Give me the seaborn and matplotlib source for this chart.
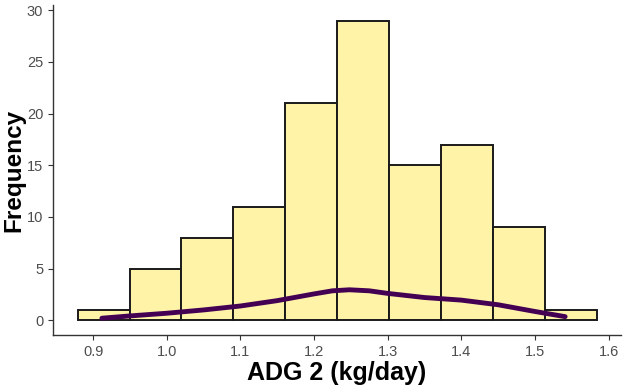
import matplotlib
matplotlib.use('Agg')
import matplotlib.pyplot as plt
import numpy as np
import seaborn as sns

# histogram bins (edges) and counts
bin_edges = [0.879, 0.9495, 1.020, 1.0905, 1.161, 1.2315, 1.302, 1.3725, 1.443, 1.5135, 1.584]
counts = [1, 5, 8, 11, 21, 29, 15, 17, 9, 1]

# density curve (purple line)
curve_x = [0.912, 0.95, 1.0, 1.05, 1.1, 1.15, 1.2, 1.225, 1.248, 1.275, 1.3, 1.35, 1.4, 1.45, 1.5, 1.541]
curve_y = [0.2, 0.42, 0.68, 1.0, 1.38, 1.9, 2.55, 2.85, 2.95, 2.85, 2.6, 2.2, 1.95, 1.5, 0.85, 0.35]

sns.set_style('white')
plt.rcParams['font.family'] = ['Liberation Sans', 'DejaVu Sans']

fig = plt.figure(figsize=(6.23, 3.85), dpi=100)
ax = fig.add_axes([0.085, 0.13, 0.912, 0.857])

centers = [(a + b) / 2 for a, b in zip(bin_edges[:-1], bin_edges[1:])]
sns.histplot(x=centers, weights=counts, bins=bin_edges, ax=ax,
             color='#FFF3A8', edgecolor='#1a1a1a', linewidth=1.4, alpha=1)
sns.lineplot(x=curve_x, y=curve_y, ax=ax, color='#440154', linewidth=3.5)

ax.set_xlim(0.8455, 1.617)
ax.set_ylim(-1.42, 30.5)
ax.set_xticks([0.9, 1.0, 1.1, 1.2, 1.3, 1.4, 1.5, 1.6])
ax.set_xticklabels(['0.9', '1.0', '1.1', '1.2', '1.3', '1.4', '1.5', '1.6'])
ax.set_yticks([0, 5, 10, 15, 20, 25, 30])

for s in ['top', 'right']:
    ax.spines[s].set_visible(False)
for s in ['left', 'bottom']:
    ax.spines[s].set_color('#333333')
    ax.spines[s].set_linewidth(1.0)

ax.tick_params(axis='both', which='major', length=3.5, width=0.8, color='#333333',
               labelcolor='#4D4D4D', labelsize=10.5, direction='out', bottom=True, left=True)

ax.set_xlabel('ADG 2 (kg/day)', fontsize=18, fontweight='bold', labelpad=2, color='black')
ax.set_ylabel('Frequency', fontsize=17.5, fontweight='bold', labelpad=1, color='black')

fig.savefig('out.png', dpi=100)
